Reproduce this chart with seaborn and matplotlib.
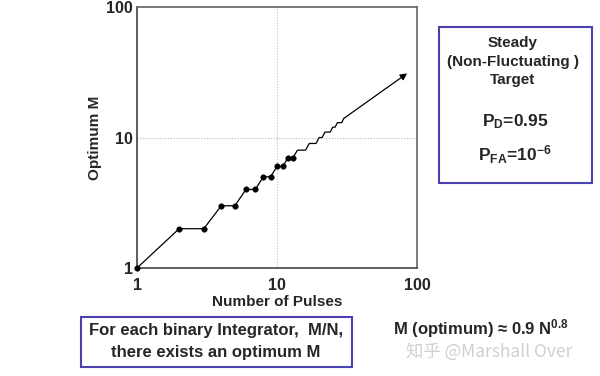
import matplotlib
matplotlib.use("Agg")
import matplotlib.pyplot as plt
from matplotlib.patches import Rectangle
import seaborn as sns
import pandas as pd

# ---- data ----
pulses_marked = [1, 2, 3, 4, 5, 6, 7, 8, 9, 10, 11, 12, 13]
optimum_marked = [1, 2, 2, 3, 3, 4, 4, 5, 5, 6, 6, 7, 7]
pulses_tail = [14, 15, 16, 17, 18, 19, 20, 21, 22, 23, 24, 25, 26, 27, 28, 29, 30]
optimum_tail = [8, 8, 8, 9, 9, 9, 10, 10, 11, 11, 11, 12, 12, 13, 13, 13, 14]
arrow_start = (30, 14)
arrow_end = (85, 31)
tick_values = [1, 10, 100]
tick_labels = ["1", "10", "100"]

sns.set_style("white")
plt.rcParams['font.family'] = ['Liberation Sans', 'Noto Sans CJK SC', 'DejaVu Sans']
plt.rcParams['mathtext.fontset'] = 'custom'
plt.rcParams['mathtext.rm'] = 'Liberation Sans:bold'
plt.rcParams['mathtext.bf'] = 'Liberation Sans:bold'
plt.rcParams['mathtext.it'] = 'Liberation Sans:bold'
plt.rcParams['mathtext.sf'] = 'Liberation Sans:bold'
plt.rcParams['mathtext.default'] = 'bf'

fig = plt.figure(figsize=(6, 3.76), dpi=100)
ax = fig.add_axes([137/600, 1-268/376, (417-137)/600, (268-7)/376])

line_df = pd.DataFrame({"N": pulses_marked + pulses_tail,
                        "M": optimum_marked + optimum_tail})
pts_df = pd.DataFrame({"N": pulses_marked, "M": optimum_marked})

sns.lineplot(data=line_df, x="N", y="M", ax=ax, color="black", lw=0.9, sort=False)
sns.scatterplot(data=pts_df, x="N", y="M", ax=ax, color="black", s=16,
                edgecolor="black", zorder=5, clip_on=False)
ax.annotate("", xy=arrow_end, xytext=arrow_start,
            arrowprops=dict(arrowstyle="-|>", color="black", lw=0.9,
                            mutation_scale=10, shrinkA=0, shrinkB=0))

ax.set_xscale("log")
ax.set_yscale("log")
ax.set_xlim(1, 100)
ax.set_ylim(1, 100)
ax.set_xticks(tick_values)
ax.set_xticklabels(tick_labels)
ax.set_yticks(tick_values)
ax.set_yticklabels(tick_labels)
ax.minorticks_off()
ax.tick_params(length=0, labelsize=11.5)
ax.tick_params(axis="x", pad=7)
ax.tick_params(axis="y", pad=3)
for lab in ax.get_xticklabels() + ax.get_yticklabels():
    lab.set_fontweight("bold")
ax.grid(True, which="major", ls=(0, (1, 1.5)), color="#bbbbbb", lw=0.8)
for s in ax.spines.values():
    s.set_color("#666666")
    s.set_linewidth(1.2)
ax.spines["left"].set_color("#444444")
ax.spines["bottom"].set_color("#444444")

ax.set_xlabel("Number of Pulses", fontsize=11, fontweight="bold", labelpad=2)
ax.set_ylabel("Optimum M", fontsize=11, fontweight="bold", labelpad=3)

box_color = "#4a40b0"
def fig_box(x0, y0, x1, y1):
    fig.patches.append(Rectangle((x0/600, 1-y1/376), (x1-x0)/600, (y1-y0)/376,
                                 transform=fig.transFigure, fill=False,
                                 edgecolor=box_color, lw=1.5))

fig_box(439, 27, 592, 183)
fig_box(81, 317, 352, 367)

def ftext(x, y, s, size, **kw):
    fig.text(x/600, 1-y/376, s, fontsize=size, fontweight="bold",
             ha="center", va="center", **kw)

ftext(513, 43, "Steady", 11)
ftext(513, 62, "(Non-Fluctuating )", 11)
ftext(513, 80, "Target", 11)
ftext(515, 122, r"P$_{\mathbf{D}}$=0.95", 12.5)
ftext(515, 155, r"P$_{\mathbf{FA}}$=10$^{\mathbf{-6}}$", 12.5)

ftext(216, 330, "For each binary Integrator,  M/N,", 12)
ftext(216, 353, "there exists an optimum M", 12)
ftext(481, 329, r"M (optimum) ≈ 0.9 N$^{\mathbf{0.8}}$", 12)
fig.text(489/600, 1-352/376, "知乎 @Marshall Over", fontsize=12.5, color="#d0d0d0",
         ha="center", va="center", family=['Noto Sans CJK SC', 'DejaVu Sans'])

fig.savefig("out.png", dpi=100)
